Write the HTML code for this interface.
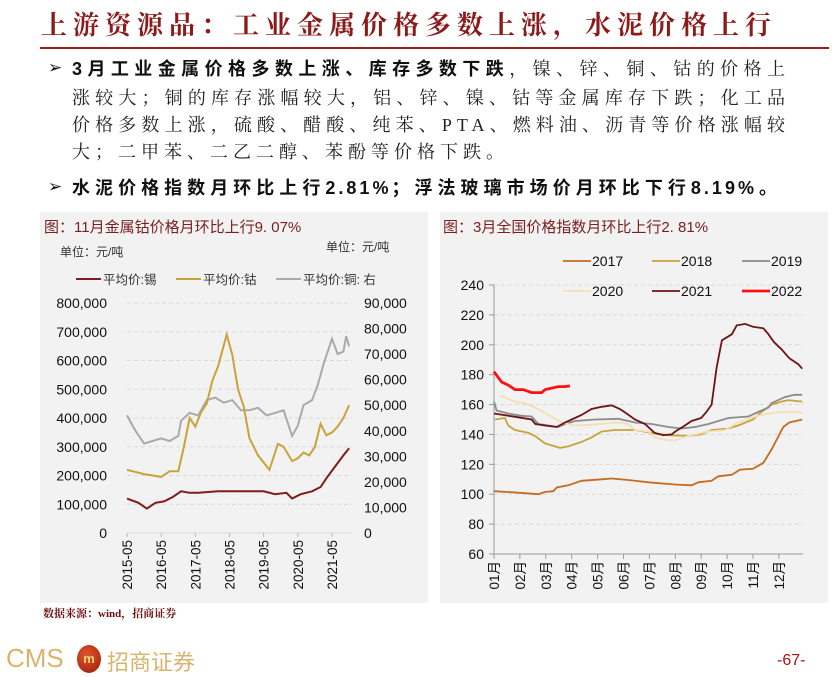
<!DOCTYPE html>
<html><head><meta charset="utf-8">
<style>
body{margin:0;width:839px;height:677px;background:#fff;position:relative;overflow:hidden;font-family:"Liberation Sans","Noto Sans CJK SC",sans-serif}
.abs{position:absolute}
.t{position:absolute;white-space:nowrap}
.ln{position:absolute;left:72px;width:718px;height:27px;line-height:27px;font-size:18px;letter-spacing:5px;text-align:justify;text-align-last:justify;white-space:nowrap;color:#222;font-family:"Liberation Serif","Noto Serif CJK SC",serif}
.bul{position:absolute;left:48px;font-size:17px;color:#111}
</style></head><body>
<div class="t" style="left:41px;top:5px;width:730px;font-size:26px;color:#8b1a1a;font-family:'Liberation Serif','Noto Serif CJK SC',serif;font-weight:bold;text-align:justify;text-align-last:justify">上游资源品：工业金属价格多数上涨，水泥价格上行</div>
<div class="abs" style="left:40px;top:47px;width:789px;height:2px;background:#a01c1c"></div>
<div>
<div class="bul" style="top:58px">➢</div>
<div class="ln" style="top:56px"><b style="font-family:'Liberation Sans','Noto Sans CJK SC',sans-serif;color:#111">3月工业金属价格多数上涨、库存多数下跌</b>，镍、锌、铜、钴的价格上</div>
<div class="ln" style="top:85px">涨较大；铜的库存涨幅较大，铝、锌、镍、钴等金属库存下跌；化工品</div>
<div class="ln" style="top:112px">价格多数上涨，硫酸、醋酸、纯苯、PTA、燃料油、沥青等价格涨幅较</div>
<div class="ln" style="top:139px;text-align:left;text-align-last:left;width:auto">大；二甲苯、二乙二醇、苯酚等价格下跌。</div>
</div>
<div>
<div class="bul" style="top:177px">➢</div>
<div class="ln" style="top:175px;width:708px;font-weight:bold;color:#111;font-family:'Liberation Sans','Noto Sans CJK SC',sans-serif;letter-spacing:3px">水泥价格指数月环比上行2.81%；浮法玻璃市场价月环比下行8.19%。</div>
</div>

<div class="abs" style="left:40px;top:212px;width:388px;height:391px;background:#f2f2f2"></div>
<div class="abs" style="left:440px;top:212px;width:388px;height:391px;background:#f2f2f2"></div>

<svg class="abs" style="left:0;top:0" width="839" height="677" id="svg"></svg>

<div class="t" style="left:43px;top:605px;font-size:11px;font-weight:bold;color:#6b0d0d;font-family:'Liberation Serif','Noto Serif CJK SC',serif">数据来源：wind，招商证券</div>
<div class="t" style="left:6px;top:643px;font-size:26px;color:#d8b46c;font-family:'Liberation Sans Narrow','Liberation Sans',sans-serif">CMS</div>
<div class="abs" style="left:77px;top:645px;width:24px;height:28px;border-radius:50%;background:radial-gradient(circle at 40% 35%,#e0562a,#9b1a0c);color:#f5d27a;font-size:13px;font-weight:bold;text-align:center;line-height:28px">m</div>
<div class="t" style="left:107px;top:645px;font-size:22px;color:#d8b46c;font-family:'Noto Sans CJK SC',sans-serif">招商证券</div>
<div class="t" style="left:777px;top:652px;font-size:16px;color:#b01010">-67-</div>

<script>
// ---------- Left chart data ----------
const tinDates=["2015-05","2015-09","2015-12","2016-03","2016-06","2016-09","2016-12","2017-03","2017-06","2018-01","2018-06","2019-01","2019-05","2019-09","2020-01","2020-03","2020-06","2020-10","2021-01","2021-03","2021-06","2021-09","2021-11"];
const tinValues=[120000,105000,85000,105000,110000,125000,145000,140000,140000,145000,145000,145000,145000,135000,140000,120000,135000,145000,160000,190000,230000,270000,295000];
const cobaltDates=["2015-05","2015-11","2016-05","2016-08","2016-11","2017-01","2017-03","2017-05","2017-07","2017-09","2017-11","2018-01","2018-04","2018-06","2018-08","2018-10","2018-12","2019-03","2019-07","2019-10","2019-12","2020-03","2020-05","2020-07","2020-09","2020-11","2021-01","2021-03","2021-05","2021-07","2021-09","2021-11"];
const cobaltValues=[220000,205000,195000,215000,215000,300000,400000,370000,420000,450000,530000,580000,690000,620000,500000,440000,330000,270000,220000,310000,300000,250000,260000,280000,270000,300000,380000,340000,350000,370000,400000,445000];
const copperDates=["2015-05","2015-08","2015-11","2016-02","2016-05","2016-08","2016-11","2016-12","2017-03","2017-06","2017-09","2017-12","2018-03","2018-06","2018-09","2018-12","2019-03","2019-06","2019-09","2019-12","2020-03","2020-05","2020-07","2020-10","2020-12","2021-02","2021-05","2021-07","2021-09","2021-10","2021-11"];
const copperValues=[46000,40000,35000,36000,37000,36000,38000,44000,47000,46000,52000,53000,51000,52000,48000,48000,49000,46000,47000,48000,38000,42000,50000,52000,58000,66000,76000,70000,71000,77000,73000];
const leftTicks=[0,100000,200000,300000,400000,500000,600000,700000,800000];
const rightTicks=[0,10000,20000,30000,40000,50000,60000,70000,80000,90000];
const xTickLabels=["2015-05","2016-05","2017-05","2018-05","2019-05","2020-05","2021-05"];

// ---------- Right chart data ----------
const monthLabels=["01月","02月","03月","04月","05月","06月","07月","08月","09月","10月","11月","12月"];
const yTicks2=[60,80,100,120,140,160,180,200,220,240];
const s2017x=[0,0.94,1.71,1.97,2.29,2.42,2.87,3.38,4.16,4.54,5.19,5.96,6.99,7.63,7.89,8.4,8.66,9.18,9.5,10,10.4,10.72,11.17,11.4,11.9];
const s2017y=[102,101,100,101.5,102,104.5,106,109,110,110.5,109.5,108,106.5,106,108,109,112,113,116.5,117,121,130,145,148,150];
const s2018x=[0.04,0.42,0.55,0.81,1.33,1.58,1.97,2.36,2.55,2.87,3.38,3.77,4.16,4.67,5.44,6.09,6.73,7.5,8.0,8.4,9.05,9.43,10,10.33,10.72,11.1,11.36,11.9];
const s2018y=[150,151,146,143,141,139,134,132,131,132,135,138,142,143,143,141,139.5,139,140,143,144,146,150,155,160,162,163,162];
const s2019x=[0,0.1,0.55,1.07,1.45,1.71,2.1,2.48,2.74,3.13,3.9,4.8,5.44,6.09,6.73,7.25,7.76,8.28,8.66,9.05,9.82,10.2,10.6,10.72,11.23,11.6,11.9];
const s2019y=[162,156,154,152.5,152,147,146,145,147,149,150,150.5,148,147,145,144,145,147,149,151,152,155,158,161,165,166.5,166.5];
const s2020x=[0.23,0.81,1.2,1.58,2.1,2.61,3.13,3.77,4.8,5.19,5.44,5.96,6.2,6.73,6.99,7.5,8.28,8.92,9.43,10.08,10.6,11.1,11.6,11.9];
const s2020y=[166,162,161,158,153,148,146,146.5,148,147,143,142,138,136,136,139,142,143,148,152,154,155,155,154.5];
const s2021x=[0,0.94,1.45,1.6,1.97,2.42,2.74,3.0,3.38,3.77,4.16,4.54,4.86,5.12,5.44,5.83,6.2,6.54,6.86,7.0,7.37,7.63,8.0,8.2,8.4,8.6,8.8,9.18,9.37,9.7,10,10.4,10.6,10.8,11.1,11.4,11.75,11.9];
const s2021y=[154,151.5,150,147,146,145,148,150,153,157,158.5,159.5,157,154,150,147,141,139.5,140,142,146,149,151,155,160,185,203,207,213,214,212,211,207,202,197,191,187,184];
const s2022x=[0,0.17,0.3,0.55,0.81,1.13,1.45,1.84,1.97,2.23,2.48,2.74,2.93];
const s2022y=[182,178,175,173,170,170,168,168,170,171,172,172,172.5];

const NS="http://www.w3.org/2000/svg";
const svg=document.getElementById('svg');
function mk(tag,attrs,parent){const e=document.createElementNS(NS,tag);for(const k in attrs)e.setAttribute(k,attrs[k]);(parent||svg).appendChild(e);return e;}
function txt(s,attrs){const e=mk('text',attrs);e.textContent=s;return e;}
const FONT='"Liberation Sans","Noto Sans CJK SC",sans-serif';

// ---- Left chart axes ----
const L={x0:127,pxPerMonth:205/72,yTop:303,yBot:533};
function lx(d){const [y,m]=d.split('-').map(Number);return L.x0+((y-2015)*12+(m-5))*L.pxPerMonth;}
function lyL(v){return L.yBot-(v/800000)*(L.yBot-L.yTop);}
function lyR(v){return L.yBot-(v/90000)*(L.yBot-L.yTop);}

let t=txt('图：11月金属钴价格月环比上行9. 07%',{x:44,y:232,'font-size':15,fill:'#7b2020','font-family':FONT});


t=txt('单位：元/吨',{x:60,y:256,'font-size':12,fill:'#333','font-family':FONT});


t=txt('单位：元/吨',{x:326,y:251,'font-size':12,fill:'#333','font-family':FONT});


const legL=[["平均价:锡","#7f1d1d",76],["平均价:钴","#c9a33a",176],["平均价:铜: 右","#aaaaaa",276]];
legL.forEach(([n,c,x])=>{const g=mk('g',{});


mk('line',{x1:x,y1:279,x2:x+25,y2:279,stroke:c,'stroke-width':2},g);
const tt=mk('text',{x:x+27,y:284,'font-size':12.5,fill:'#333','font-family':FONT},g);tt.textContent=n;});

leftTicks.forEach(v=>{const y=lyL(v);
if(v>0){const l=mk('line',{x1:127,x2:352,y1:y,y2:y,stroke:'#d9d9d9','stroke-dasharray':'4,3'});

}
const e=txt(v.toLocaleString('en-US'),{x:107,y:y+5,'font-size':14,'text-anchor':'end',fill:'#111','font-family':FONT});

});
rightTicks.forEach(v=>{const e=txt(v.toLocaleString('en-US'),{x:364,y:lyR(v)+5,'font-size':14,fill:'#111','font-family':FONT});

});
let ax=mk('line',{x1:127,x2:352,y1:533,y2:533,stroke:'#d9d9d9'});


xTickLabels.forEach(d=>{const x=lx(d);
mk('line',{x1:x,x2:x,y1:533,y2:537,stroke:'#bbb'});
const e=txt(d,{x:0,y:0,'font-size':13.5,'text-anchor':'end',fill:'#111','font-family':FONT,transform:`translate(${x+5},${540}) rotate(-90)`});

});
function linePath(xs,ys,fx,fy){return xs.map((a,i)=>(i?'L':'M')+fx(a).toFixed(1)+','+fy(ys[i]).toFixed(1)).join('');}
let p=mk('path',{d:linePath(copperDates,copperValues,lx,lyR),fill:'none',stroke:'#aaaaaa','stroke-width':2});


p=mk('path',{d:linePath(cobaltDates,cobaltValues,lx,lyL),fill:'none',stroke:'#c9a33a','stroke-width':2});


p=mk('path',{d:linePath(tinDates,tinValues,lx,lyL),fill:'none',stroke:'#7f1d1d','stroke-width':2});



// ---- Right chart ----
const R={x0:494,pxPerMonth:25.9,yTop:285,yBot:554};
function rx(i){return R.x0+i*R.pxPerMonth;}
function ry(v){return R.yBot-(v-60)/180*(R.yBot-R.yTop);}
t=txt('图：3月全国价格指数月环比上行2. 81%',{x:443,y:232,'font-size':15,fill:'#7b2020','font-family':FONT});


yTicks2.forEach(v=>{const y=ry(v);
if(v>60){const l=mk('line',{x1:494,x2:803,y1:y,y2:y,stroke:'#d9d9d9','stroke-dasharray':'4,3'});

}
mk('line',{x1:489,x2:494,y1:y,y2:y,stroke:'#999'});
const e=txt(String(v),{x:484,y:y+5,'font-size':14,'text-anchor':'end',fill:'#111','font-family':FONT});

});
ax=mk('line',{x1:494,x2:494,y1:285,y2:554,stroke:'#999'});


ax=mk('line',{x1:494,x2:803,y1:554,y2:554,stroke:'#999'});


monthLabels.forEach((m,i)=>{const x=rx(i);
mk('line',{x1:x,x2:x,y1:554,y2:559,stroke:'#999'});
const e=txt(m,{x:0,y:0,'font-size':13.5,'text-anchor':'end',fill:'#111','font-family':FONT,transform:`translate(${x+5},${561}) rotate(-90)`});

});
const series=[["2017",s2017x,s2017y,"#c46c1f",1.8],["2018",s2018x,s2018y,"#c9a33a",1.8],["2019",s2019x,s2019y,"#8c8c8c",1.8],["2020",s2020x,s2020y,"#f3dfb3",1.8],["2021",s2021x,s2021y,"#6e1414",1.8],["2022",s2022x,s2022y,"#ff1010",2.8]];
series.forEach(([n,xs,ys,c,w])=>{const e=mk('path',{d:linePath(xs,ys,rx,ry),fill:'none',stroke:c,'stroke-width':w});

});
const legPos=[[563,261],[652,261],[742,261],[563,291],[652,291],[742,291]];
series.forEach(([n,xs,ys,c,w],i)=>{const [x,y]=legPos[i];const g=mk('g',{});


mk('line',{x1:x,x2:x+28,y1:y,y2:y,stroke:c,'stroke-width':w},g);
const tt=mk('text',{x:x+29,y:y+5,'font-size':14,fill:'#111','font-family':FONT},g);tt.textContent=n;});
</script>
</body></html>
